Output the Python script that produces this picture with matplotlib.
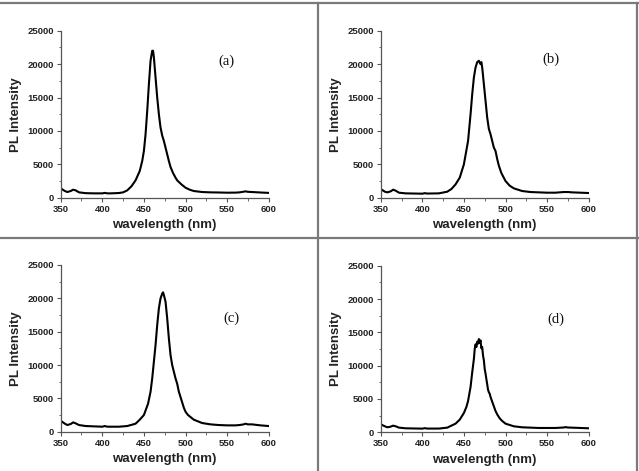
import matplotlib
matplotlib.use("Agg")
import matplotlib.pyplot as plt
from matplotlib.lines import Line2D
from matplotlib.ticker import MultipleLocator

# ---------------- data ----------------
wl_a = [350, 355, 358, 362, 365, 368, 372, 380, 390, 400, 403, 406, 410, 420, 425, 430, 435, 440, 445, 448,
        450, 452, 454, 456, 458, 460, 461, 462, 464, 466, 468, 470, 472, 474, 476, 478, 480, 482, 485, 488,
        490, 495, 500, 505, 510, 520, 530, 540, 550, 560, 565, 570, 572, 575, 580, 590, 600]
pl_a = [1400, 1000, 850, 1000, 1200, 1100, 800, 680, 650, 650, 720, 650, 650, 700, 800, 1100, 1700, 2600, 4000, 5500,
        7000, 9500, 13000, 17000, 20500, 22000, 22000, 21000, 18000, 15000, 12500, 10500, 9300, 8500, 7500, 6500, 5500, 4600, 3700, 3000,
        2600, 2000, 1500, 1200, 1000, 850, 800, 780, 750, 760, 800, 900, 950, 880, 850, 780, 720]

wl_b = [350, 355, 358, 362, 365, 368, 372, 380, 400, 403, 406, 420, 430, 435, 440, 445, 450, 455, 458, 460,
        462, 464, 466, 468, 469, 470, 471, 472, 474, 476, 478, 480, 482, 484, 486, 488, 490, 492, 495, 500,
        505, 510, 520, 530, 550, 560, 570, 575, 580, 590, 600]
pl_b = [1300, 900, 800, 950, 1200, 1050, 750, 650, 600, 680, 620, 650, 900, 1300, 2000, 3000, 5000, 8500, 12500, 15500,
        18000, 19500, 20300, 20500, 20200, 20000, 20300, 19500, 17000, 14500, 12000, 10300, 9500, 8500, 7500, 7000, 5800, 4800, 3700, 2500,
        1800, 1400, 1000, 850, 750, 750, 850, 850, 800, 750, 700]

wl_c = [350, 355, 358, 362, 365, 368, 372, 380, 400, 403, 406, 420, 430, 440, 445, 450, 455, 458, 460, 462,
        464, 466, 468, 470, 472, 473, 474, 476, 478, 480, 482, 484, 486, 488, 490, 492, 495, 498, 500, 503,
        508, 510, 520, 530, 540, 550, 560, 565, 570, 572, 575, 580, 590, 600]
pl_c = [1650, 1200, 1000, 1150, 1400, 1250, 1000, 850, 750, 850, 750, 750, 850, 1200, 1800, 2500, 4200, 6000, 8000, 10500,
        13000, 16000, 18500, 20000, 20700, 20900, 20500, 19500, 17000, 14000, 11500, 10000, 9000, 8000, 7200, 6000, 4800, 3600, 3000, 2500,
        2000, 1800, 1300, 1100, 1000, 950, 950, 1000, 1100, 1200, 1100, 1100, 950, 850]

wl_d = [350, 355, 358, 362, 365, 368, 372, 380, 400, 403, 406, 420, 430, 440, 445, 450, 453, 455, 458, 460,
        462, 463, 464, 465, 466, 467, 468, 469, 470, 471, 472, 473, 474, 475, 476, 477, 478, 479, 480, 481,
        482, 484, 486, 488, 490, 493, 496, 500, 510, 520, 540, 560, 570, 572, 575, 590, 600]
pl_d = [1200, 900, 750, 850, 1000, 900, 700, 600, 550, 620, 560, 560, 700, 1300, 1900, 2900, 3800, 4700, 6800, 9000,
        11000, 12500, 13200, 12800, 13600, 13300, 14000, 13400, 13800, 12600, 12800, 11500, 10800, 9500, 8800, 8000, 7200, 6400, 6000, 5800,
        5300, 4600, 3900, 3200, 2700, 2100, 1700, 1300, 900, 750, 650, 650, 720, 780, 720, 650, 600]

panel_labels = ["(a)", "(b)", "(c)", "(d)"]
label_pos = [(549, 20400), (555, 20700), (555, 17000), (561, 17000)]
x_ticks = [350, 400, 450, 500, 550, 600]
y_ticks = [0, 5000, 10000, 15000, 20000, 25000]

# ---------------- figure ----------------
W, H = 639, 471
fig = plt.figure(figsize=(W / 100, H / 100), dpi=100)

def px_axes(l, r, t, b):
    return fig.add_axes([l / W, (H - b) / H, (r - l) / W, (b - t) / H])

boxes = [(60.7, 268.7, 30.7, 197.7), (380.7, 588.7, 30.7, 197.7),
         (60.7, 268.7, 265.0, 431.7), (380.7, 588.7, 265.7, 432.3)]
data = [(wl_a, pl_a), (wl_b, pl_b), (wl_c, pl_c), (wl_d, pl_d)]

for (l, r, t, b), (x, y), lab, lp in zip(boxes, data, panel_labels, label_pos):
    ax = px_axes(l, r, t, b)
    ax.plot(x, y, color="black", lw=1.5)
    ax.set_xlim(350, 600)
    ax.set_ylim(0, 25000)
    ax.set_xticks(x_ticks)
    ax.set_yticks(y_ticks)
    ax.xaxis.set_minor_locator(MultipleLocator(25))
    ax.yaxis.set_minor_locator(MultipleLocator(2500))
    for s in ["top", "right"]:
        ax.spines[s].set_visible(False)
    for s in ["left", "bottom"]:
        ax.spines[s].set_color("#555555")
        ax.spines[s].set_linewidth(0.9)
    ax.tick_params(which="major", direction="out", length=3, width=0.8, color="#555555",
                   labelsize=6.8, pad=2)
    ax.tick_params(which="minor", direction="out", length=1.8, width=0.6, color="#555555")
    for tl in ax.get_xticklabels() + ax.get_yticklabels():
        tl.set_fontfamily("Liberation Sans")
        tl.set_fontweight("bold")
        tl.set_color("#222222")
    ax.set_xlabel("wavelength (nm)", fontfamily="Liberation Sans", fontweight="bold",
                  fontsize=9.5, labelpad=4, color="#222222")
    ax.set_ylabel("PL Intensity", fontfamily="Liberation Sans", fontweight="bold",
                  fontsize=9.5, labelpad=4, color="#222222")
    ax.text(lp[0], lp[1], lab, fontfamily="Liberation Serif", fontsize=10.5,
            ha="center", va="center", color="#111111")

# table borders
gray = "#7a7a7a"
def hline(y, x0, x1):
    fig.add_artist(Line2D([x0 / W, x1 / W], [(H - y) / H, (H - y) / H], color=gray, lw=1.6))
def vline(x, y0, y1):
    fig.add_artist(Line2D([x / W, x / W], [(H - y0) / H, (H - y1) / H], color=gray, lw=1.6))

hline(3, 0, 637.5)
hline(238, 0, 637.5)
vline(318.3, 3, 471)
vline(637, 3, 471)

fig.savefig("out.png", dpi=100)
